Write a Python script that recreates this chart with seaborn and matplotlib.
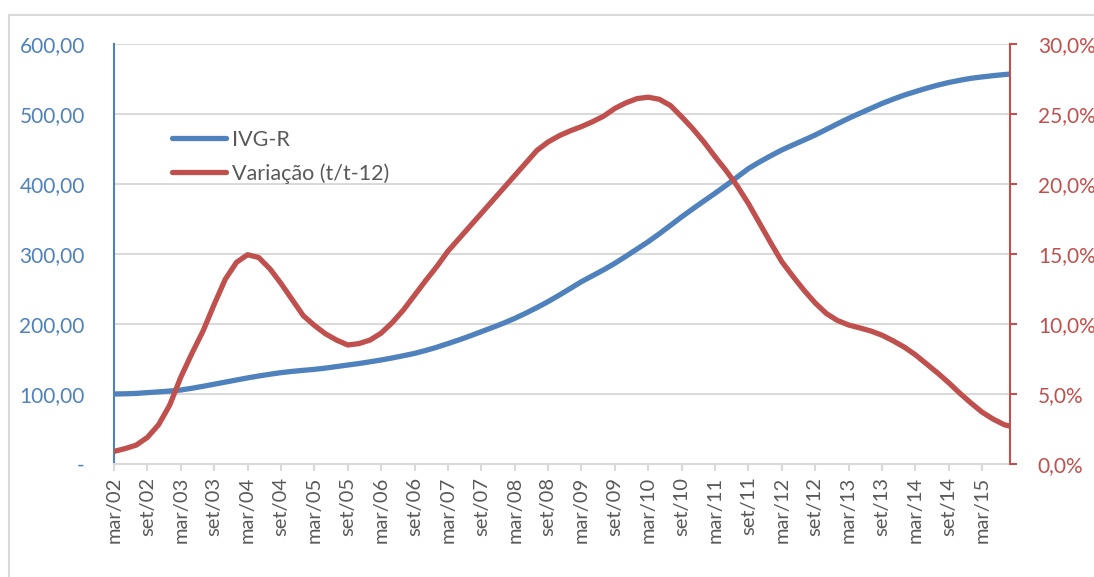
import matplotlib
matplotlib.use("Agg")
import matplotlib.pyplot as plt
from matplotlib.lines import Line2D
from matplotlib.ticker import FixedLocator, FuncFormatter
import pandas as pd
import seaborn as sns

# Bimonthly readings, Mar/2002 .. Jul/2015, plus the last month (Aug/2015)
dates = list(pd.date_range("2002-03-01", "2015-07-01", freq="2MS")) + [pd.Timestamp("2015-08-01")]

ivg_r = [100.0, 100.3, 100.8, 102.0, 103.0, 104.2, 105.7, 108.2, 111.0, 114.0,
         117.0, 120.0, 123.0, 125.7, 128.2, 130.5, 132.3, 133.8, 135.2, 137.0,
         139.2, 141.4, 143.5, 146.0, 148.6, 151.5, 154.7, 158.0, 162.2, 166.8,
         172.0, 177.3, 183.0, 189.0, 195.0, 201.2, 208.0, 215.5, 223.5, 232.0,
         241.2, 250.8, 260.5, 269.0, 277.5, 286.7, 296.8, 307.2, 317.6, 329.0,
         341.0, 353.0, 364.5, 375.7, 386.7, 398.2, 410.0, 422.0, 431.5, 440.3,
         448.6, 455.8, 462.8, 470.0, 478.0, 486.0, 493.8, 501.0, 508.0, 515.0,
         521.2, 527.0, 532.0, 536.8, 541.2, 545.0, 548.2, 551.0, 553.0, 554.8,
         556.4, 557.0]

variacao = [0.9, 1.1, 1.35, 1.9, 2.8, 4.2, 6.2, 7.9, 9.5, 11.4,
            13.2, 14.4, 14.95, 14.75, 13.95, 12.9, 11.75, 10.6, 9.9, 9.3,
            8.85, 8.5, 8.6, 8.85, 9.35, 10.1, 11.0, 12.05, 13.1, 14.1,
            15.2, 16.1, 17.0, 17.9, 18.8, 19.7, 20.6, 21.5, 22.4, 23.0,
            23.45, 23.8, 24.1, 24.45, 24.85, 25.4, 25.8, 26.1, 26.2, 26.05,
            25.6, 24.8, 23.95, 23.0, 21.95, 20.95, 19.85, 18.6, 17.2, 15.8,
            14.45, 13.4, 12.4, 11.5, 10.75, 10.25, 9.93, 9.72, 9.5, 9.2,
            8.8, 8.35, 7.8, 7.15, 6.5, 5.8, 5.05, 4.35, 3.7, 3.2,
            2.8, 2.7]

left_ticks = [0, 100, 200, 300, 400, 500, 600]
right_ticks = [0, 5, 10, 15, 20, 25, 30]
month_names = {3: "mar", 9: "set"}

BLUE = "#4F81BD"
RED = "#C0504D"
GREY_TXT = "#595959"
GRID = "#D9D9D9"

df = pd.DataFrame({"date": dates, "IVG-R": ivg_r, "Variação (t/t-12)": variacao})
df["m"] = (df["date"].dt.year - 2002) * 12 + df["date"].dt.month - 3

sns.set_theme(style="white")
plt.rcParams["font.family"] = ["Lato", "DejaVu Sans"]

W, H = 1094, 577
fig = plt.figure(figsize=(W / 100, H / 100), dpi=100)
ax = fig.add_axes([114 / W, 1 - 464 / H, (1010 - 114) / W, (464 - 44) / H])
ax2 = ax.twinx()

line_kw = dict(linewidth=3.8, legend=False, solid_capstyle="round", solid_joinstyle="round")
sns.lineplot(data=df, x="m", y="IVG-R", ax=ax, color=BLUE, **line_kw)
sns.lineplot(data=df, x="m", y="Variação (t/t-12)", ax=ax2, color=RED, **line_kw)

last_m = int(df["m"].iloc[-1])
ax.set_xlim(0, last_m)
ax.set_ylim(0, 600)
ax2.set_ylim(0, 30)

# x axis: a label every six months
xt = list(range(0, last_m + 1, 6))
xl = []
for m in xt:
    d = pd.Timestamp("2002-03-01") + pd.DateOffset(months=m)
    xl.append(f"{month_names[d.month]}/{d.year % 100:02d}")
ax.set_xticks(xt)
ax.set_xticklabels(xl, rotation=90, color=GREY_TXT, fontsize=14.5)
ax.tick_params(axis="x", length=5, width=1.5, color=GRID, pad=4, bottom=True)

# left axis
ax.yaxis.set_major_locator(FixedLocator(left_ticks))
ax.yaxis.set_major_formatter(FuncFormatter(
    lambda v, p: "-" if v == 0 else f"{v:,.2f}".replace(",", " ").replace(".", ",").replace(" ", ".")))
ax.tick_params(axis="y", length=0, pad=21, labelcolor=BLUE, labelsize=15)
ax.grid(axis="y", color=GRID, linewidth=1.4)
ax.grid(axis="x", visible=False)
ax.set_xlabel("")
ax.set_ylabel("")

# right axis
ax2.yaxis.set_major_locator(FixedLocator(right_ticks))
ax2.yaxis.set_major_formatter(FuncFormatter(lambda v, p: f"{v:.1f}%".replace(".", ",")))
ax2.tick_params(axis="y", length=5, width=1.5, color=RED, pad=15, labelcolor=RED, labelsize=15)
ax2.grid(False)
ax2.set_ylabel("")

for a in (ax, ax2):
    for s in a.spines.values():
        s.set_visible(False)
ax.spines["left"].set_visible(True)
ax.spines["left"].set_color(BLUE)
ax.spines["left"].set_linewidth(1.5)
ax.spines["bottom"].set_visible(True)
ax.spines["bottom"].set_color(GRID)
ax.spines["bottom"].set_linewidth(1.5)
ax2.spines["right"].set_visible(True)
ax2.spines["right"].set_color(RED)
ax2.spines["right"].set_linewidth(1.5)

handles = [Line2D([], [], color=BLUE, lw=3.8, solid_capstyle="round"),
           Line2D([], [], color=RED, lw=3.8, solid_capstyle="round")]
leg = fig.legend(handles, ["IVG-R", "Variação (t/t-12)"], loc="upper left",
                 bbox_to_anchor=(172 / W, 1 - 130 / H), bbox_transform=fig.transFigure,
                 frameon=False, fontsize=15.5, handlelength=2.5, handletextpad=0.3,
                 labelspacing=0.62, borderpad=0, borderaxespad=0)
for t in leg.get_texts():
    t.set_color(GREY_TXT)

# chart frame
fig.add_artist(Line2D([9 / W, 9 / W], [0, 1 - 15 / H], transform=fig.transFigure,
                      color=GRID, lw=1.5))
fig.add_artist(Line2D([9 / W, 1], [1 - 15 / H, 1 - 15 / H], transform=fig.transFigure,
                      color=GRID, lw=1.5))

fig.savefig("out.png", dpi=100)
